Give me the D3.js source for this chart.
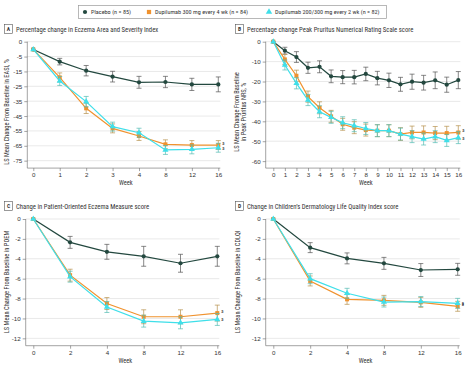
<!DOCTYPE html>
<html>
<head>
<meta charset="utf-8">
<script src="https://cdn.jsdelivr.net/npm/d3@7"></script>
<style>
  body { margin: 0; background: white; }
  svg { font-family: "Roboto Condensed", "DejaVu Sans Condensed", sans-serif; }
</style>
</head>
<body>
<div id="chart"></div>
<script>
// Dados
const seriesNames = ["Placebo (n = 85)", "Dupilumab 300 mg every 4 wk (n = 84)", "Dupilumab 200/300 mg every 2 wk (n = 82)"];
const colors = ["#23483f", "#f0922e", "#3fdfe9"];

const weeksA = [0, 1, 2, 3, 4, 8, 12, 16];
const easiPlacebo = [-0.2, -8.4, -14.5, -18.5, -22.3, -22.1, -23.7, -23.7];
const easiPlaceboErr = [0, 2.2, 3.5, 3.6, 4, 3.8, 4.1, 5];
const easiQ4w = [-0.2, -19, -39.8, -53.3, -58.4, -64, -64.5, -64.5];
const easiQ4wErr = [0, 3, 3.5, 3, 3, 3, 3, 3];
const easiQ2w = [-0.2, -21.4, -35.3, -52.1, -56.2, -67.8, -67.4, -66.3];
const easiQ2wErr = [0, 3, 3.5, 3, 3, 3, 3, 3];
const easiTicks = [5, -5, -15, -25, -35, -45, -55, -65, -75];
const easiTickLabels = ["0", "-5", "-15", "-25", "-35", "-45", "-55", "-65", "-75"];

const weeksB = [0, 1, 2, 3, 4, 5, 6, 7, 8, 9, 10, 11, 12, 13, 14, 15, 16];
const nrsPlacebo = [0, -4.5, -7.7, -13.1, -12.6, -17.4, -17.8, -17.8, -16.2, -18.3, -19.4, -21.4, -20.1, -20.6, -19.4, -21.6, -19.3];
const nrsPlaceboErr = [0, 1.7, 2.7, 2.8, 3, 3.2, 3.3, 3.4, 3.4, 3.4, 3.6, 3.5, 3.8, 3.7, 4.2, 3.8, 4.3];
const nrsQ4w = [0, -8.9, -17.1, -27.6, -33.2, -37.5, -41.5, -43.2, -44.4, -44.7, -44.7, -46.4, -45.6, -45.6, -45.9, -45.9, -45.6];
const nrsQ4wErr = [0, 2.5, 2.8, 2.8, 3, 3, 3, 3, 3, 3, 3, 3.2, 3.2, 3.3, 3.3, 3.4, 3.4];
const nrsQ2w = [0, -11.7, -20.9, -29.3, -35.2, -38, -40.7, -42.2, -43.6, -44.7, -44.7, -46.4, -47.7, -48.9, -47.7, -49.6, -48.2];
const nrsQ2wErr = [0, 2.5, 2.8, 2.8, 3, 3, 3, 3, 3, 3, 3, 3, 3, 3, 3, 3, 3];
const nrsTicks = [0, -10, -20, -30, -40, -50, -60];

const weeksC = [0, 2, 4, 8, 12, 16];
const poemPlacebo = [0, -2.35, -3.3, -3.75, -4.45, -3.75];
const poemPlaceboErr = [0, 0.6, 0.75, 1, 0.9, 1];
const poemQ4w = [0, -5.65, -8.5, -9.83, -9.83, -9.46];
const poemQ4wErr = [0, 0.6, 0.6, 0.7, 0.7, 0.8];
const poemQ2w = [0, -5.8, -8.85, -10.27, -10.44, -10.1];
const poemQ2wErr = [0, 0.55, 0.55, 0.6, 0.6, 0.6];
const poemTicks = [0, -2, -4, -6, -8, -10, -12];

const cdlqiPlacebo = [0, -2.88, -3.96, -4.46, -5.13, -5.06];
const cdlqiPlaceboErr = [0, 0.5, 0.55, 0.6, 0.65, 0.6];
const cdlqiQ4w = [0, -6.23, -8.08, -8.18, -8.38, -8.78];
const cdlqiQ4wErr = [0, 0.5, 0.5, 0.5, 0.5, 0.5];
const cdlqiQ2w = [0, -6.0, -7.47, -8.35, -8.3, -8.48];
const cdlqiQ2wErr = [0, 0.5, 0.5, 0.5, 0.5, 0.5];
const cdlqiTicks = [0, -2, -4, -6, -8, -10, -12];

const width = 467;
const height = 370;

const svg = d3.select("#chart")
  .append("svg")
  .attr("width", width)
  .attr("height", height);

// Legenda
const legend = svg.append("g");
legend.append("rect")
  .attr("x", 78.5).attr("y", 5.5)
  .attr("width", 308).attr("height", 13)
  .attr("fill", "white")
  .attr("stroke", "#9a9a9a")
  .attr("stroke-width", 0.7);

const legendX = [85, 149, 269];
seriesNames.forEach((name, i) => {
  const g = legend.append("g").attr("transform", `translate(${legendX[i]},12)`);
  g.append("path")
    .attr("d", d3.symbol().type([d3.symbolCircle, d3.symbolSquare, d3.symbolTriangle][i]).size(i === 0 ? 14 : 18)())
    .attr("fill", colors[i]);
  g.append("text")
    .attr("x", 6)
    .attr("y", 2.3)
    .style("font-size", "6.2px")
    .style("fill", "#333")
    .text(name);
});

function drawPanel(opts) {
  const g = svg.append("g");

  const x = d3.scalePoint()
    .domain(opts.weeks)
    .range([opts.x0, opts.x1]);

  const y = d3.scaleLinear()
    .domain(opts.yDomain)
    .range([opts.yTop, opts.yBottom]);

  // Título
  g.append("rect")
    .attr("x", opts.titleX + 0.5).attr("y", opts.titleY - 7.5)
    .attr("width", 8).attr("height", 9)
    .attr("fill", "white")
    .attr("stroke", "#555")
    .attr("stroke-width", 0.6);
  g.append("text")
    .attr("x", opts.titleX + 4.5).attr("y", opts.titleY - 0.8)
    .attr("text-anchor", "middle")
    .style("font-size", "5.6px")
    .style("font-weight", "bold")
    .style("fill", "#333")
    .text(opts.letter);
  g.append("text")
    .attr("x", opts.titleX + 12).attr("y", opts.titleY)
    .style("font-size", "6.7px")
    .style("fill", "#333")
    .text(opts.title);

  // Grade
  g.selectAll(".grid")
    .data(opts.ticks)
    .enter()
    .append("line")
    .attr("x1", opts.axisX)
    .attr("x2", opts.x1 + 2)
    .attr("y1", d => y(d))
    .attr("y2", d => y(d))
    .attr("stroke", "#e3e3e3")
    .attr("stroke-width", 0.8);

  // Eixo Y
  const yAxis = g.append("g")
    .attr("transform", `translate(${opts.axisX},0)`)
    .call(d3.axisLeft(y)
      .tickValues(opts.ticks)
      .tickSize(3)
      .tickPadding(2)
      .tickFormat((d, i) => opts.tickLabels ? opts.tickLabels[i] : d3.format("")(d).replace("−", "-")));
  yAxis.select(".domain").remove();
  yAxis.selectAll("line").attr("stroke", "#666").attr("stroke-width", 0.6);
  yAxis.selectAll("text").style("font-size", "6.2px").style("fill", "#333").style("font-family", "inherit");

  g.append("line")
    .attr("x1", opts.axisX).attr("x2", opts.axisX)
    .attr("y1", opts.yTop).attr("y2", opts.yBottom)
    .attr("stroke", "#666").attr("stroke-width", 0.6);

  // Eixo X
  const xAxis = g.append("g")
    .attr("transform", `translate(0,${opts.yBottom})`)
    .call(d3.axisBottom(x).tickSize(3).tickPadding(2));
  xAxis.select(".domain").remove();
  xAxis.selectAll("line").attr("stroke", "#666").attr("stroke-width", 0.6);
  xAxis.selectAll("text").style("font-size", "6.2px").style("fill", "#333").style("font-family", "inherit");

  g.append("line")
    .attr("x1", opts.axisX).attr("x2", opts.x1 + 2)
    .attr("y1", opts.yBottom).attr("y2", opts.yBottom)
    .attr("stroke", "#666").attr("stroke-width", 0.6);

  // Rótulo do eixo X
  g.append("text")
    .attr("x", (opts.x0 + opts.x1) / 2)
    .attr("y", opts.yBottom + 17)
    .attr("text-anchor", "middle")
    .style("font-size", "6.4px")
    .style("fill", "#333")
    .text("Week");

  // Rótulo do eixo Y
  const yLabel = g.append("text")
    .attr("transform", `translate(${opts.yLabelX},${opts.yLabelY}) rotate(-90)`)
    .attr("text-anchor", "middle")
    .style("font-size", "6.4px")
    .style("fill", "#333");
  opts.yLabel.forEach((line, i) => {
    yLabel.append("tspan")
      .attr("x", 0)
      .attr("dy", i === 0 ? 0 : "1.15em")
      .text(line);
  });

  const symbols = [d3.symbolCircle, d3.symbolSquare, d3.symbolTriangle];
  const line = d3.line().x(d => x(d.week)).y(d => y(d.value));

  // Desenha na ordem: placebo, q4w, q2w
  opts.series.forEach((s, i) => {
    const data = opts.weeks.map((w, j) => ({ week: w, value: s.values[j], err: s.err[j] }));
    const errColor = i === 0 ? "#555" : d3.interpolateRgb(colors[i], "#6f8f70")(0.45);

    g.append("path")
      .datum(data)
      .attr("d", line)
      .attr("fill", "none")
      .attr("stroke", colors[i])
      .attr("stroke-width", 1.2);

    const eb = g.selectAll(`.err${i}`)
      .data(data.filter(d => d.err > 0))
      .enter()
      .append("g")
      .attr("stroke", errColor)
      .attr("stroke-width", 0.7);
    eb.append("line")
      .attr("x1", d => x(d.week)).attr("x2", d => x(d.week))
      .attr("y1", d => y(d.value - d.err)).attr("y2", d => y(d.value + d.err));
    eb.append("line")
      .attr("x1", d => x(d.week) - 2.5).attr("x2", d => x(d.week) + 2.5)
      .attr("y1", d => y(d.value - d.err)).attr("y2", d => y(d.value - d.err));
    eb.append("line")
      .attr("x1", d => x(d.week) - 2.5).attr("x2", d => x(d.week) + 2.5)
      .attr("y1", d => y(d.value + d.err)).attr("y2", d => y(d.value + d.err));

    g.selectAll(`.pt${i}`)
      .data(data)
      .enter()
      .append("path")
      .attr("transform", d => `translate(${x(d.week)},${y(d.value)})`)
      .attr("d", d3.symbol().type(symbols[i]).size(i === 0 ? 14 : 16)())
      .attr("fill", colors[i]);
  });

  // Marcas "a"
  const last = opts.weeks[opts.weeks.length - 1];
  [1, 2].forEach(i => {
    const vals = opts.series[i].values;
    g.append("text")
      .attr("x", x(last) + 4)
      .attr("y", y(vals[vals.length - 1]) + (i === 1 ? 0 : 2))
      .style("font-size", "4.6px")
      .style("fill", "#333")
      .text("a");
  });
}

drawPanel({
  letter: "A",
  title: "Percentage change in Eczema Area and Severity Index",
  titleX: 4, titleY: 32,
  weeks: weeksA,
  x0: 33.3, x1: 218.3, axisX: 27.3,
  yDomain: [5, -80], yTop: 41.7, yBottom: 168.1,
  ticks: easiTicks, tickLabels: easiTickLabels,
  yLabelX: 9, yLabelY: 112,
  yLabel: ["LS Mean Change From Baseline in EASI, %"],
  series: [
    { values: easiPlacebo, err: easiPlaceboErr },
    { values: easiQ4w, err: easiQ4wErr },
    { values: easiQ2w, err: easiQ2wErr }
  ]
});

drawPanel({
  letter: "B",
  title: "Percentage change Peak Pruritus Numerical Rating Scale score",
  titleX: 235, titleY: 32,
  weeks: weeksB,
  x0: 273.3, x1: 458.3, axisX: 265.7,
  yDomain: [0, -63.5], yTop: 41.7, yBottom: 168.1,
  ticks: nrsTicks,
  yLabelX: 239, yLabelY: 112,
  yLabel: ["LS Mean Change From Baseline", "in Peak Pruritus NRS, %"],
  series: [
    { values: nrsPlacebo, err: nrsPlaceboErr },
    { values: nrsQ4w, err: nrsQ4wErr },
    { values: nrsQ2w, err: nrsQ2wErr }
  ]
});

drawPanel({
  letter: "C",
  title: "Change in Patient-Oriented Eczema Measure score",
  titleX: 4, titleY: 209,
  weeks: weeksC,
  x0: 33.3, x1: 217.3, axisX: 25.7,
  yDomain: [0, -12.74], yTop: 219, yBottom: 345.7,
  ticks: poemTicks,
  yLabelX: 9, yLabelY: 282,
  yLabel: ["LS Mean Change From Baseline in POEM"],
  series: [
    { values: poemPlacebo, err: poemPlaceboErr },
    { values: poemQ4w, err: poemQ4wErr },
    { values: poemQ2w, err: poemQ2wErr }
  ]
});

drawPanel({
  letter: "D",
  title: "Change in Children\u2019s Dermatology Life Quality Index score",
  titleX: 235, titleY: 209,
  weeks: weeksC,
  x0: 273.3, x1: 457.7, axisX: 265.7,
  yDomain: [0, -12.74], yTop: 219, yBottom: 345.7,
  ticks: cdlqiTicks,
  yLabelX: 240, yLabelY: 282,
  yLabel: ["LS Mean Change From Baseline in CDLQI"],
  series: [
    { values: cdlqiPlacebo, err: cdlqiPlaceboErr },
    { values: cdlqiQ4w, err: cdlqiQ4wErr },
    { values: cdlqiQ2w, err: cdlqiQ2wErr }
  ]
});
</script>
</body>
</html>
